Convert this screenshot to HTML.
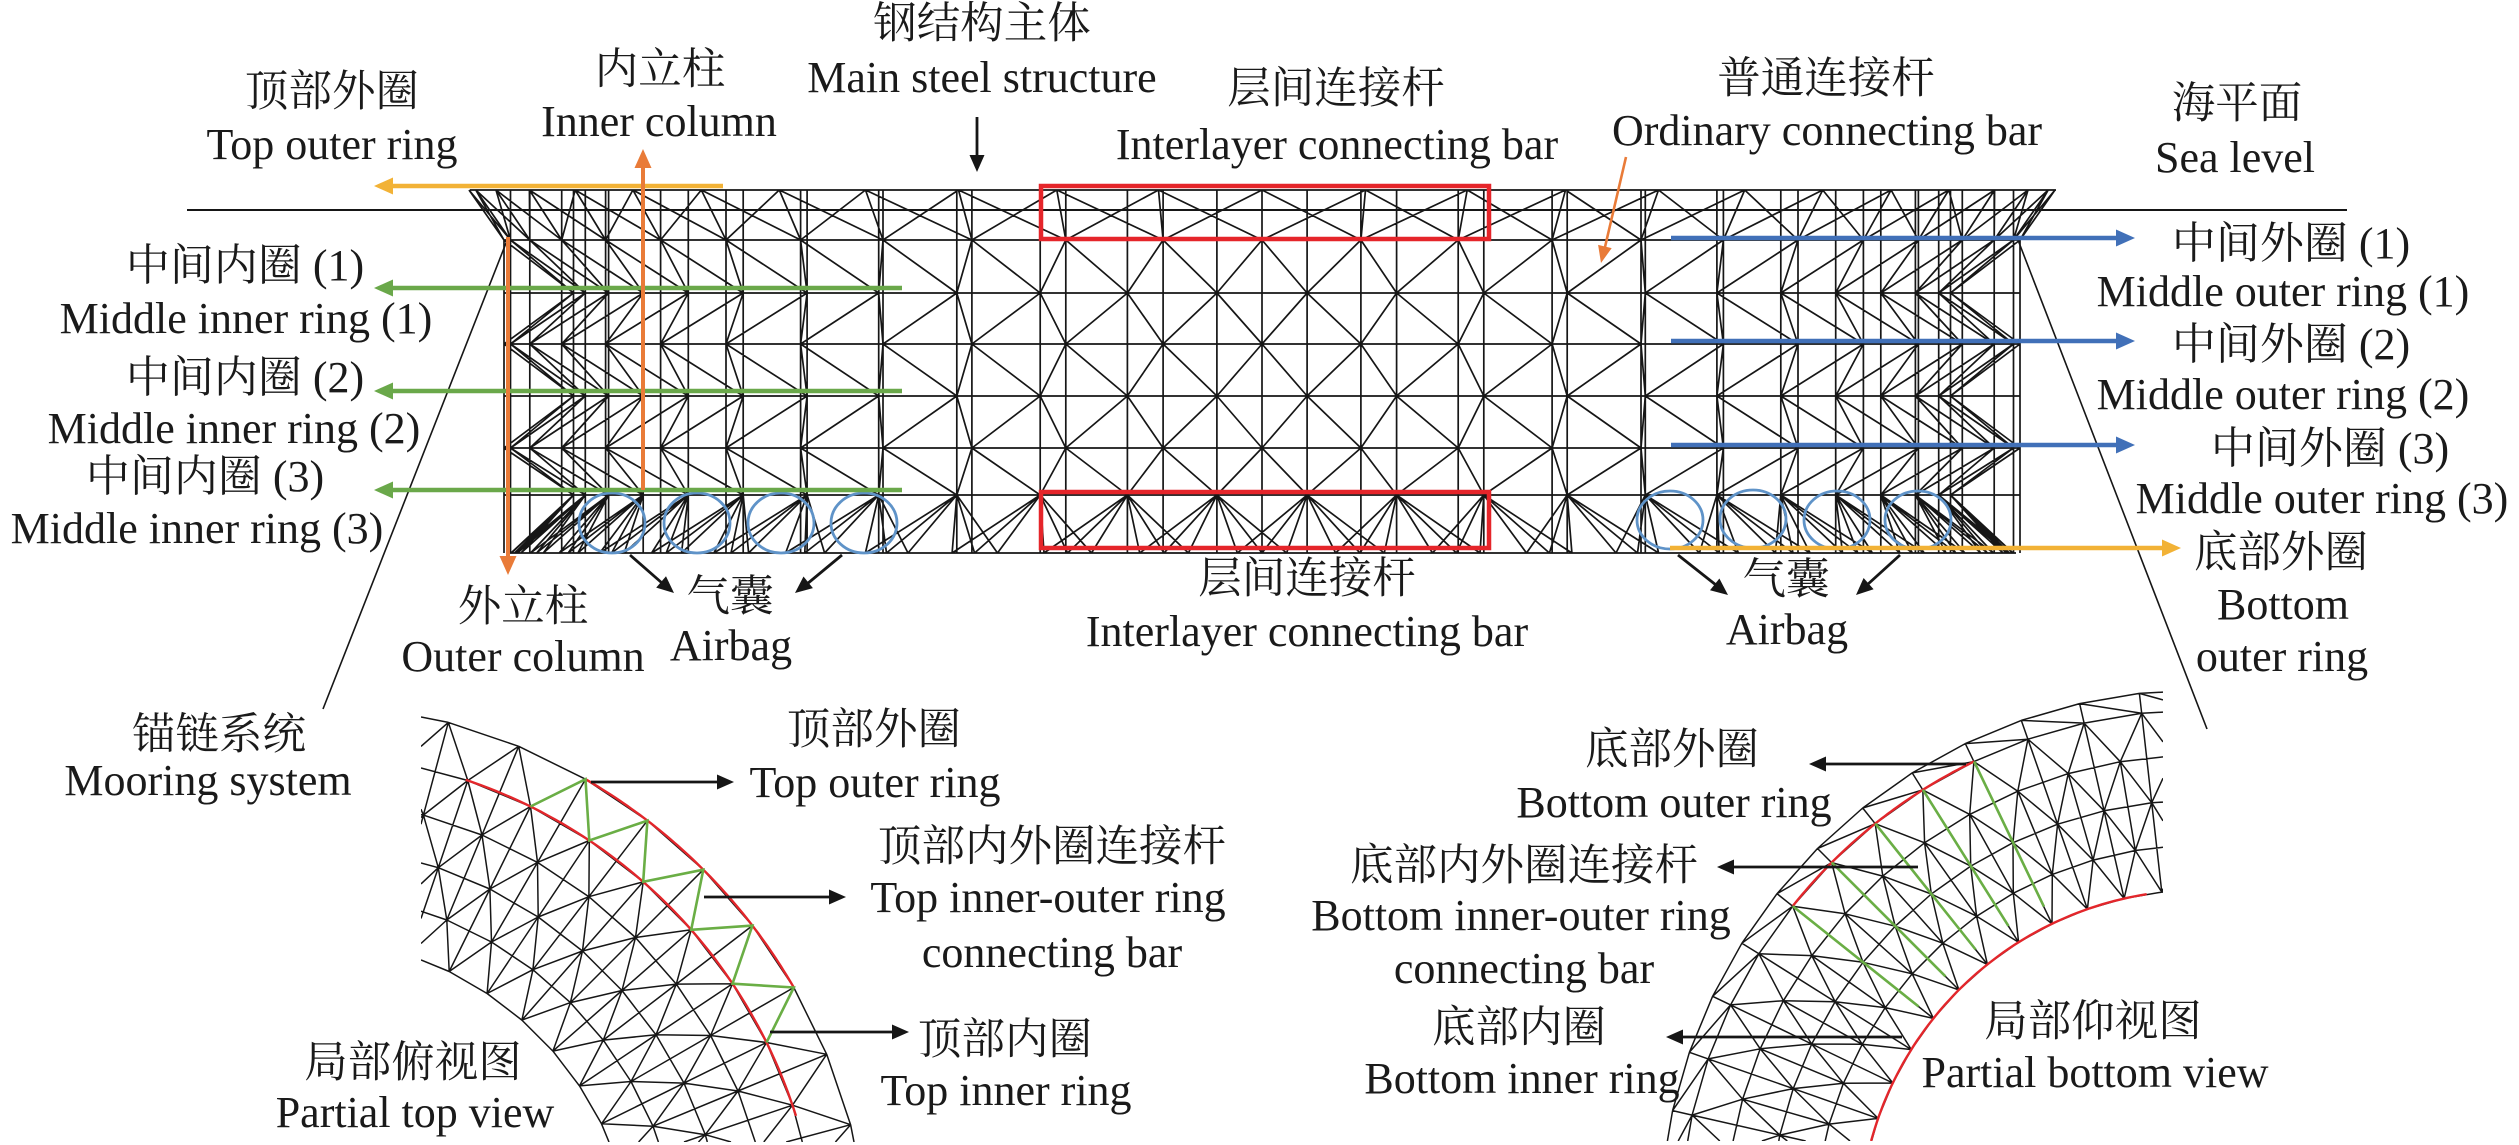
<!DOCTYPE html>
<html><head><meta charset="utf-8">
<style>
html,body{margin:0;padding:0;background:#fff;width:2519px;height:1145px;overflow:hidden;}
svg{display:block;}
text{font-family:"Liberation Serif","Noto Serif CJK SC",serif;font-size:44px;fill:#1a1a1a;}
text.c{font-size:43.5px;}
</style></head><body>
<svg id="s" width="2519" height="1145" viewBox="0 0 2519 1145" xmlns="http://www.w3.org/2000/svg">
<defs>
 <clipPath id="cpT"><rect x="421" y="700" width="460" height="442"/></clipPath>
 <clipPath id="cpB"><rect x="1640" y="686" width="523" height="455"/></clipPath>
</defs>
<rect x="0" y="0" width="2519" height="1145" fill="#fff"/>

<!-- main structure mesh -->
<path id="mesh" fill="none" stroke="#161616" stroke-width="1.7"/>
<!-- sea level -->
<line x1="187" y1="210" x2="2347" y2="210" stroke="#161616" stroke-width="2"/>
<!-- mooring lines -->
<line x1="508" y1="238" x2="323" y2="709" stroke="#161616" stroke-width="1.6"/>
<line x1="2018" y1="240" x2="2207" y2="729" stroke="#161616" stroke-width="1.6"/>

<!-- partial views -->
<g clip-path="url(#cpT)">
 <path id="tv" fill="none" stroke="#161616" stroke-width="1.5"/>
 <path id="tvR" fill="none" stroke="#e3262b" stroke-width="2.4"/>
 <path id="tvG" fill="none" stroke="#6aae45" stroke-width="2.6"/>
</g>
<g clip-path="url(#cpB)">
 <path id="bv" fill="none" stroke="#161616" stroke-width="1.5"/>
 <path id="bvR" fill="none" stroke="#e3262b" stroke-width="2.4"/>
 <path id="bvG" fill="none" stroke="#6aae45" stroke-width="2.6"/>
</g>

<!-- red boxes -->
<rect x="1041" y="186" width="448" height="53" fill="none" stroke="#e5252a" stroke-width="4.5"/>
<rect x="1041" y="492" width="448" height="56" fill="none" stroke="#e5252a" stroke-width="4.5"/>

<!-- airbags -->
<g fill="none" stroke="#5f93c8" stroke-width="2.8">
 <ellipse cx="612" cy="523" rx="33" ry="30"/>
 <ellipse cx="697" cy="523" rx="33" ry="30"/>
 <ellipse cx="781" cy="523" rx="33" ry="30"/>
 <ellipse cx="864" cy="523" rx="33" ry="30"/>
 <ellipse cx="1670" cy="520" rx="33" ry="29"/>
 <ellipse cx="1753" cy="519" rx="33" ry="29"/>
 <ellipse cx="1837" cy="520" rx="33" ry="29"/>
 <ellipse cx="1918" cy="520" rx="33" ry="29"/>
</g>

<!-- colored arrows -->
<g stroke-width="4.6">
 <line x1="723" y1="186" x2="392" y2="186" stroke="#f2b236"/>
 <polygon points="374,186 393,177.5 393,194.5" fill="#f2b236"/>
 <line x1="902" y1="288" x2="392" y2="288" stroke="#6aa84a"/>
 <polygon points="374,288 393,279.5 393,296.5" fill="#6aa84a"/>
 <line x1="902" y1="391" x2="392" y2="391" stroke="#6aa84a"/>
 <polygon points="374,391 393,382.5 393,399.5" fill="#6aa84a"/>
 <line x1="902" y1="490" x2="392" y2="490" stroke="#6aa84a"/>
 <polygon points="374,490 393,481.5 393,498.5" fill="#6aa84a"/>
 <line x1="1671" y1="238" x2="2117" y2="238" stroke="#4170b8"/>
 <polygon points="2135,238 2116,229.5 2116,246.5" fill="#4170b8"/>
 <line x1="1671" y1="341" x2="2117" y2="341" stroke="#4170b8"/>
 <polygon points="2135,341 2116,332.5 2116,349.5" fill="#4170b8"/>
 <line x1="1671" y1="445" x2="2117" y2="445" stroke="#4170b8"/>
 <polygon points="2135,445 2116,436.5 2116,453.5" fill="#4170b8"/>
 <line x1="1670" y1="548" x2="2163" y2="548" stroke="#f2b236"/>
 <polygon points="2181,548 2162,539.5 2162,556.5" fill="#f2b236"/>
 <line x1="643" y1="490" x2="643" y2="167" stroke="#e97b38" stroke-width="4"/>
 <polygon points="643,149 634.5,168 651.5,168" fill="#e97b38"/>
 <line x1="508" y1="237" x2="508" y2="557" stroke="#e97b38" stroke-width="4"/>
 <polygon points="508,575 499.5,556 516.5,556" fill="#e97b38"/>
 <line x1="1626" y1="157" x2="1605" y2="247" stroke="#e97b38" stroke-width="2.6"/>
 <polygon points="1601,263 1611.7,248.1 1598.1,244.9" fill="#e97b38"/>
</g>

<!-- black arrows -->
<g stroke="#161616" stroke-width="2.8" fill="#161616">
 <line x1="977" y1="117" x2="977" y2="156"/>
 <polygon stroke="none" points="977,172 969.5,155 984.5,155"/>
 <line x1="630" y1="555" x2="662" y2="583"/>
 <polygon stroke="none" points="674,593 656.2,587.6 666,576.2"/>
 <line x1="842" y1="555" x2="807" y2="584"/>
 <polygon stroke="none" points="795,593 803.5,576.5 812.9,588.1"/>
 <line x1="1678" y1="555" x2="1716" y2="585"/>
 <polygon stroke="none" points="1728,595 1710,590.3 1719.4,578.5"/>
 <line x1="1900" y1="555" x2="1867" y2="585"/>
 <polygon stroke="none" points="1856,595 1863.6,578 1873.6,589.2"/>
 <line x1="591" y1="782" x2="718" y2="782"/>
 <polygon stroke="none" points="734,782 717,774.5 717,789.5"/>
 <line x1="704" y1="897" x2="830" y2="897"/>
 <polygon stroke="none" points="846,897 829,889.5 829,904.5"/>
 <line x1="770" y1="1032" x2="893" y2="1032"/>
 <polygon stroke="none" points="909,1032 892,1024.5 892,1039.5"/>
 <line x1="1966" y1="764" x2="1825" y2="764"/>
 <polygon stroke="none" points="1809,764 1826,756.5 1826,771.5"/>
 <line x1="1918" y1="867" x2="1733" y2="867"/>
 <polygon stroke="none" points="1717,867 1734,859.5 1734,874.5"/>
 <line x1="1902" y1="1037" x2="1682" y2="1037"/>
 <polygon stroke="none" points="1666,1037 1683,1029.5 1683,1044.5"/>
</g>

<!-- labels -->
<g text-anchor="middle">
 <text class="c" x="332" y="106">顶部外圈</text>
 <text x="332" y="159">Top outer ring</text>
 <text class="c" x="660" y="84">内立柱</text>
 <text x="659" y="136">Inner column</text>
 <text class="c" x="982" y="38">钢结构主体</text>
 <text x="982" y="92">Main steel structure</text>
 <text class="c" x="1336" y="103">层间连接杆</text>
 <text x="1337" y="159">Interlayer connecting bar</text>
 <text class="c" x="1826" y="93">普通连接杆</text>
 <text x="1827" y="145">Ordinary connecting bar</text>
 <text class="c" x="2237" y="118">海平面</text>
 <text x="2235" y="172">Sea level</text>

 <text x="2291" y="258">中间外圈 (1)</text>
 <text x="2283" y="306">Middle outer ring (1)</text>
 <text x="2291" y="359">中间外圈 (2)</text>
 <text x="2283" y="409">Middle outer ring (2)</text>
 <text x="2330" y="463">中间外圈 (3)</text>
 <text x="2322" y="513">Middle outer ring (3)</text>
 <text class="c" x="2281" y="567">底部外圈</text>
 <text x="2283" y="619">Bottom</text>
 <text x="2282" y="671">outer ring</text>

 <text x="245" y="280">中间内圈 (1)</text>
 <text x="246" y="333">Middle inner ring (1)</text>
 <text x="245" y="392">中间内圈 (2)</text>
 <text x="234" y="443">Middle inner ring (2)</text>
 <text x="205" y="491">中间内圈 (3)</text>
 <text x="197" y="543">Middle inner ring (3)</text>

 <text class="c" x="523" y="621">外立柱</text>
 <text x="523" y="671">Outer column</text>
 <text class="c" x="730" y="611">气囊</text>
 <text x="731" y="660">Airbag</text>
 <text class="c" x="1307" y="593">层间连接杆</text>
 <text x="1307" y="646">Interlayer connecting bar</text>
 <text class="c" x="1786" y="594">气囊</text>
 <text x="1787" y="644">Airbag</text>
 <text class="c" x="219" y="749">锚链系统</text>
 <text x="208" y="795">Mooring system</text>

 <text class="c" x="874" y="744">顶部外圈</text>
 <text x="875" y="797">Top outer ring</text>
 <text class="c" x="1052" y="861">顶部内外圈连接杆</text>
 <text x="1048" y="912">Top inner-outer ring</text>
 <text x="1052" y="967">connecting bar</text>
 <text class="c" x="1005" y="1054">顶部内圈</text>
 <text x="1006" y="1105">Top inner ring</text>
 <text class="c" x="413" y="1077">局部俯视图</text>
 <text x="415" y="1127">Partial top view</text>

 <text class="c" x="1672" y="764">底部外圈</text>
 <text x="1674" y="817">Bottom outer ring</text>
 <text class="c" x="1524" y="880">底部内外圈连接杆</text>
 <text x="1521" y="930">Bottom inner-outer ring</text>
 <text x="1524" y="983">connecting bar</text>
 <text class="c" x="1519" y="1042">底部内圈</text>
 <text x="1522" y="1093">Bottom inner ring</text>
 <text class="c" x="2093" y="1036">局部仰视图</text>
 <text x="2095" y="1087">Partial bottom view</text>
</g>
</svg>
<script>
(function(){
function f(v){return Math.round(v*10)/10;}
function S(a,x1,y1,x2,y2){a.push('M'+f(x1)+' '+f(y1)+'L'+f(x2)+' '+f(y2));}
function SC(a,x1,y1,x2,y2,r){
  var t0=0,t1=1,dx=x2-x1,dy=y2-y1;
  var p=[-dx,dx,-dy,dy],q=[x1-r[0],r[2]-x1,y1-r[1],r[3]-y1];
  for(var i=0;i<4;i++){
    if(p[i]==0){if(q[i]<0)return;}
    else{var t=q[i]/p[i];
      if(p[i]<0){if(t>t1)return;if(t>t0)t0=t;}
      else{if(t<t0)return;if(t<t1)t1=t;}}
  }
  S(a,x1+t0*dx,y1+t0*dy,x1+t1*dx,y1+t1*dy);
}
function put(id,arr){document.getElementById(id).setAttribute('d',arr.join(''));}

/* ---- main cylinder wireframe ---- */
var m=[];
var cx=1262,Ro=758,Ri=690,Rt=793,Rb=751,N=48,D=2*Math.PI/N,H=N/2;
function xo(k){return cx-Ro*Math.cos(k*D);}
function xi(k){return cx-Ri*Math.cos((k+0.5)*D);}
function xt(k){return cx-Rt*Math.cos(k*D);}
function xb(j){return cx-Rb*Math.cos(j*D/4);}
var Ys=[240,293,344,396,448,495];
S(m,470,190,2056,190);
for(var i=0;i<Ys.length;i++) S(m,504,Ys[i],2020,Ys[i]);
S(m,510,553,2016,553);
for(var k=0;k<=H;k++){var x=xo(k); S(m,x,(k==0||k==H)?240:190,x,553);}
for(var k=0;k<H;k++){var x=xi(k); S(m,x,190,x,553);}
for(var i=0;i<Ys.length-1;i++){
  var ya=Ys[i],yb=Ys[i+1];
  var yo=(i%2==0)?ya:yb, yi=(i%2==0)?yb:ya;
  for(var k=0;k<H;k++){S(m,xi(k),yi,xo(k),yo);S(m,xi(k),yi,xo(k+1),yo);}
}
for(var k=0;k<=H;k++){
  for(var d=-1;d<=1;d++){var kk=k+d; if(kk<0||kk>H) continue; S(m,xt(k),190,xo(kk),240);}
}
for(var k=0;k<H;k++){
  var j0=4*k+2;
  for(var d=1;d<=3;d++){
    if(j0-d>=0) S(m,xi(k),495,xb(j0-d),553);
    if(j0+d<=2*N) S(m,xi(k),495,xb(j0+d),553);
  }
}
put('mesh',m);

/* ---- annular partial views ---- */
function ann(id,cx,cy,radii,offs,Nn,a0,a1,rc){
  var D=2*Math.PI/Nn,arr=[],rings=[];
  var k0=Math.floor(a0/D)-1,k1=Math.ceil(a1/D)+1;
  for(var j=0;j<radii.length;j++){
    var L=[];
    for(var k=k0;k<=k1;k++){var t=k+offs[j],a=t*D;L.push({t:t,x:cx+radii[j]*Math.cos(a),y:cy-radii[j]*Math.sin(a)});}
    rings.push(L);
    for(var i=0;i<L.length-1;i++) SC(arr,L[i].x,L[i].y,L[i+1].x,L[i+1].y,rc);
  }
  for(var j=0;j<radii.length-1;j++){
    var A=rings[j],B=rings[j+1],same=(offs[j]==offs[j+1]);
    for(var p=0;p<B.length;p++)for(var q=0;q<A.length;q++){
      var d=A[q].t-B[p].t;
      var ok=same?(Math.abs(d)<0.01||Math.abs(d-1)<0.01):(Math.abs(Math.abs(d)-0.5)<0.01);
      if(ok) SC(arr,B[p].x,B[p].y,A[q].x,A[q].y,rc);
    }
  }
  for(var j=0;j<radii.length-2;j++){
    var A=rings[j],B=rings[j+2];
    for(var p=0;p<B.length;p++)for(var q=0;q<A.length;q++)
      if(Math.abs(A[q].t-B[p].t)<0.01) SC(arr,B[p].x,B[p].y,A[q].x,A[q].y,rc);
  }
  put(id,arr);
}
var R=Math.PI/180;
ann('tv',301,1272,[569,519,473,427,381,335],[0,0.5,0,0.5,0,0.5],48,0,100*R,[421,700,881,1142]);
ann('bv',2200,1231,[541,521,476,431,386,341],[0,0,0.5,0,0.5,0],56,85*R,185*R,[1640,686,2163,1141]);

function arc(arr,cx,cy,r,a0,a1){
  var n=60;
  for(var i=0;i<=n;i++){var a=(a0+(a1-a0)*i/n)*R;arr.push((i?'L':'M')+f(cx+r*Math.cos(a))+' '+f(cy-r*Math.sin(a)));}
}
var tr=[];arc(tr,301,1272,569,30,60);arc(tr,301,1272,519,17.5,71.5);put('tvR',tr);
var tg=[];
for(var i=0;i<=10;i++){var a=(63.75-3.75*i)*R,r=(i%2==0)?519:569;tg.push((i?'L':'M')+f(301+r*Math.cos(a))+' '+f(1272-r*Math.sin(a)));}
put('tvG',tg);
var br=[];arc(br,2200,1231,521,115.7,141.4);arc(br,2200,1231,341,99,164.7);put('bvR',br);
var bg=[],Db=360/56;
for(var i=0;i<5;i++){var a=(115.7+Db*i)*R;S(bg,2200+521*Math.cos(a),1231-521*Math.sin(a),2200+360*Math.cos(a),1231-360*Math.sin(a));}
put('bvG',bg);
})();
</script>
</body></html>
